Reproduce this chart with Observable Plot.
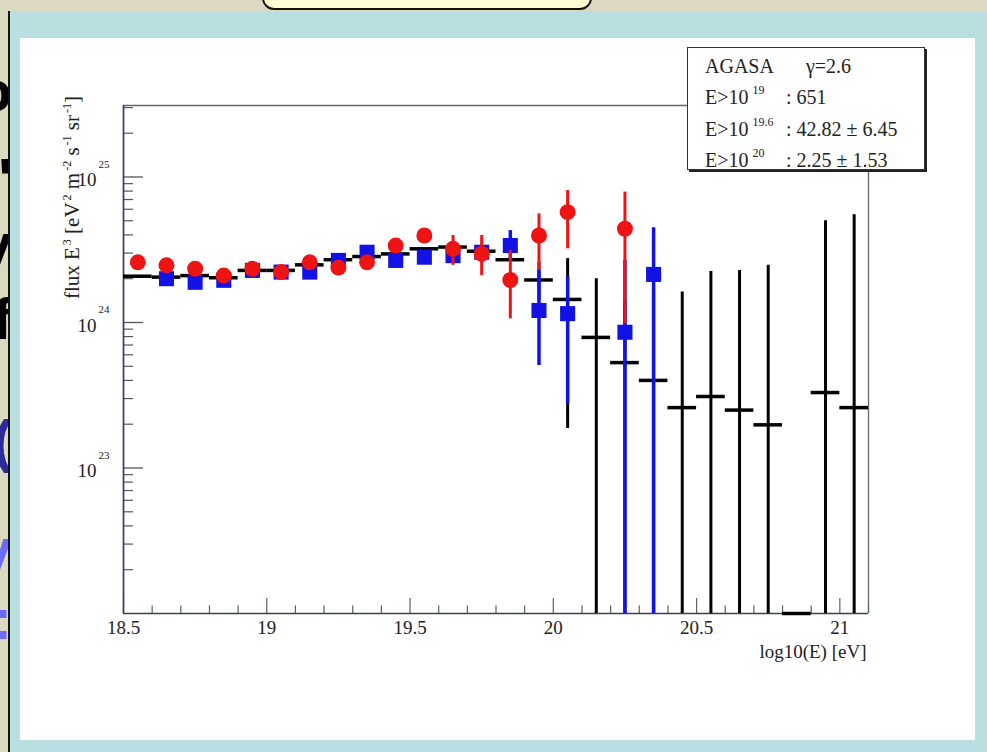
<!DOCTYPE html>
<html>
<head>
<meta charset="utf-8">
<script src="https://cdn.jsdelivr.net/npm/d3@7"></script>
<script src="https://cdn.jsdelivr.net/npm/@observablehq/plot@0.6"></script>
<style>
  html, body { margin:0; padding:0; width:987px; height:752px; overflow:hidden; background:#dcd9c1; }
  #frame { position:absolute; left:8px; top:11px; width:979px; height:741px; background:#badfe0; border-left:2px solid #111; box-sizing:border-box; }
  #panel { position:absolute; left:20px; top:38px; width:955px; height:702px; background:#fff; }
  #callout { position:absolute; left:262px; top:-16px; width:326px; height:22px; background:#fffbd2; border:2px solid #111; border-radius:12px; }
  #side { position:absolute; left:0; top:0; width:8px; height:752px; overflow:hidden; }
  #side span { position:absolute; right:-4px; font-family:"Liberation Sans", sans-serif; font-weight:bold; font-size:58px; line-height:58px; }
  #chart { position:absolute; left:0; top:0; }
  #legend { position:absolute; left:687px; top:47px; width:238px; height:123px; background:#fff;
            border:1.5px solid #333; box-shadow:2px 2px 0 #222; box-sizing:border-box;
            font-family:"Liberation Serif", serif; font-size:20px; color:#222; }
  #legend .row { position:absolute; left:0; width:100%; height:20px; line-height:20px; }
  #legend .row span { position:absolute; white-space:nowrap; }
  #legend sup { font-size:12px; vertical-align:baseline; position:relative; top:-0.8em; margin-left:4px; }
</style>
</head>
<body>
<div id="side">
  <span style="top:62px">o</span>
  <span style="top:150px">'</span>
  <span style="top:215px">y</span>
  <span style="top:290px">f</span>
  <span style="top:412px;color:#2b2b9c">(</span>
  <span style="top:520px;color:#6b6bff">y</span>
  <span style="top:590px;color:#6b6bff">:</span>
</div>
<div id="frame"></div>
<div id="callout"></div>
<div id="panel"></div>
<div id="chart"></div>
<div id="legend">
  <div class="row" style="top:8px"><span style="left:17px">AGASA</span><span style="left:118px">γ=2.6</span></div>
  <div class="row" style="top:39px"><span style="left:17px">E&gt;10<sup>19</sup></span><span style="left:98px">: 651</span></div>
  <div class="row" style="top:71px"><span style="left:17px">E&gt;10<sup>19.6</sup></span><span style="left:98px">: 42.82 ± 6.45</span></div>
  <div class="row" style="top:102px"><span style="left:17px">E&gt;10<sup>20</sup></span><span style="left:98px">: 2.25 ± 1.53</span></div>
</div>
<script>
// ---------- data (log10(E) bin centres and flux E^3 values) ----------
const bins = [18.55,18.65,18.75,18.85,18.95,19.05,19.15,19.25,19.35,19.45,19.55,19.65,19.75,19.85,19.95,20.05,20.15,20.25,20.35,20.45,20.55,20.65,20.75,20.85,20.95,21.05];
const blackFlux = [2.08e24,2.05e24,2.10e24,2.03e24,2.28e24,2.28e24,2.49e24,2.70e24,2.84e24,2.96e24,3.21e24,3.30e24,3.09e24,2.70e24,1.96e24,1.44e24,7.9e23,5.3e23,4.0e23,2.6e23,3.1e23,2.5e23,1.98e23,1e22,3.3e23,2.6e23];

const blackErrE  = [19.95,20.05,20.15,20.25,20.35,20.45,20.55,20.65,20.75,20.95,21.05];
const blackErrHi = [2.58e24,2.75e24,2.0e24,1.42e24,1.66e24,1.62e24,2.24e24,2.28e24,2.47e24,5.0e24,5.5e24];
const blackErrLo = [1.42e24,1.87e23,1e22,1e22,1e22,1e22,1e22,1e22,1e22,1e22,1e22];

const redE    = [18.55,18.65,18.75,18.85,18.95,19.05,19.15,19.25,19.35,19.45,19.55,19.65,19.75,19.85,19.95,20.05,20.25];
const redFlux = [2.59e24,2.47e24,2.34e24,2.10e24,2.34e24,2.22e24,2.59e24,2.38e24,2.59e24,3.38e24,3.96e24,3.21e24,2.96e24,1.96e24,3.96e24,5.73e24,4.41e24];
const redHi   = [null,null,null,null,null,null,null,null,null,null,null,3.96e24,3.96e24,3.13e24,5.58e24,8.07e24,7.87e24];
const redLo   = [null,null,null,null,null,null,null,null,null,null,null,2.47e24,2.10e24,1.06e24,2.28e24,3.21e24,9.8e23];

const blueE    = [18.65,18.75,18.85,18.95,19.05,19.15,19.25,19.35,19.45,19.55,19.65,19.75,19.85,19.95,20.05,20.25,20.35];
const blueFlux = [2.0e24,1.89e24,1.95e24,2.28e24,2.22e24,2.22e24,2.67e24,3.04e24,2.67e24,2.81e24,2.88e24,3.04e24,3.38e24,1.21e24,1.15e24,8.57e23,2.14e24];
const blueHi   = [null,null,null,null,null,null,null,null,null,null,null,null,4.28e24,2.28e24,2.05e24,2.67e24,4.48e24];
const blueLo   = [null,null,null,null,null,null,null,null,null,null,null,null,2.67e24,5.06e23,2.77e23,1e22,1e22];

const binHalfWidth = 0.05;

// ticks
const xLabelPos = [18.5,19,19.5,20,20.5,21];
const xLabels = ["18.5","19","19.5","20","20.5","21"];
const yMajor = [1e23,1e24,1e25];
const yExp = ["23","24","25"];
const yMinorMant = [2,3,4,5,6,7,8,9];
const yDecades = [1e22,1e23,1e24,1e25];

// ---------- layout ----------
const W = 987, H = 752;
const mL = 123, mR = 119, mT = 105, mB = 139;
const innerW = W - mL - mR, innerH = H - mT - mB;
const xDomain = [18.5, 21.1], yDomain = [1e22, 3.1e25];

const yMinor = yDecades.flatMap(d => yMinorMant.map(m => m * d)).filter(v => v > yDomain[0] && v < yDomain[1]);
const xAll = d3.range(185, 212).map(v => v / 10);
const xMajorT = xAll.filter(v => Math.abs(v * 2 - Math.round(v * 2)) < 1e-9);
const xMinorT = xAll.filter(v => !xMajorT.includes(v));

const black = bins.map((e, i) => ({e, f: blackFlux[i]}));
const blackErr = blackErrE.map((e, i) => ({e, hi: blackErrHi[i], lo: blackErrLo[i]}));
const red = redE.map((e, i) => ({e, f: redFlux[i], hi: redHi[i], lo: redLo[i]}));
const blue = blueE.map((e, i) => ({e, f: blueFlux[i], hi: blueHi[i], lo: blueLo[i]}));

const font = "'Liberation Serif', 'Times New Roman', serif";
const RED = "#ee1414", BLUE = "#1212e6";

const chart = Plot.plot({
  width: W, height: H,
  marginLeft: mL, marginRight: mR, marginTop: mT, marginBottom: mB,
  style: {background: "transparent", fontFamily: font, color: "#222"},
  x: {domain: xDomain, axis: null},
  y: {type: "log", domain: yDomain, axis: null},
  marks: [
    Plot.ruleY([yDomain[1]], {stroke: "#666", strokeWidth: 1.3}),
    Plot.ruleX([xDomain[1]], {stroke: "#666", strokeWidth: 1.3}),
    Plot.tickY(yMinor, {y: d => d, insetRight: innerW - 10, stroke: "#555", strokeWidth: 1.2}),
    Plot.tickY(yMajor, {y: d => d, insetRight: innerW - 20, stroke: "#555", strokeWidth: 1.3}),
    Plot.tickX(xMinorT, {x: d => d, insetTop: innerH - 7.5, stroke: "#556655", strokeWidth: 1.2}),
    Plot.tickX(xMajorT, {x: d => d, insetTop: innerH - 15, stroke: "#556655", strokeWidth: 1.2}),
    Plot.ruleX([xDomain[0]], {stroke: "#3c3c58", strokeWidth: 1.7}),
    Plot.ruleY([yDomain[0]], {stroke: "#3c3c58", strokeWidth: 1.7}),
    Plot.text(xLabelPos, {x: d => d, text: (d, i) => xLabels[i], frameAnchor: "bottom", dy: 20, fontSize: 19, fill: "#222"}),
    Plot.text(yMajor, {y: d => d, text: () => "10", frameAnchor: "left", textAnchor: "end", dx: -27, dy: 3, fontSize: 19, fill: "#222"}),
    Plot.text(yMajor, {y: d => d, text: (d, i) => yExp[i], frameAnchor: "left", textAnchor: "start", dx: -25, dy: -13, fontSize: 11, fill: "#222"}),
    Plot.text(["log10(E) [eV]"], {text: d => d, frameAnchor: "bottom-right", textAnchor: "end", dx: -2, dy: 44, fontSize: 19, fill: "#222"}),
    Plot.ruleY(black, {y: "f", x1: d => d.e - binHalfWidth, x2: d => d.e + binHalfWidth, stroke: "#000", strokeWidth: 3.5}),
    Plot.ruleX(blackErr, {x: "e", y1: "lo", y2: "hi", stroke: "#000", strokeWidth: 3}),
    Plot.ruleX(blue.filter(d => d.hi != null), {x: "e", y1: "lo", y2: "hi", stroke: BLUE, strokeWidth: 3.5}),
    Plot.dot(blue, {x: "e", y: "f", symbol: "square", r: 8.5, fill: BLUE, stroke: "none"}),
    Plot.ruleX(red.filter(d => d.hi != null), {x: "e", y1: "lo", y2: "hi", stroke: RED, strokeWidth: 3}),
    Plot.dot(red, {x: "e", y: "f", r: 8, fill: RED, stroke: "none"})
  ]
});

// y-axis title with superscripts
const svg = d3.select(chart);
const t = svg.append("text")
  .attr("transform", "translate(79,96) rotate(-90)")
  .attr("text-anchor", "end")
  .attr("font-family", font)
  .attr("font-size", 21)
  .attr("fill", "#222");
const parts = [["flux E", 0], ["3", 1], [" [eV", 0], ["2", 1], [" m", 0], ["-2", 1], [" s", 0], ["-1", 1], [" sr", 0], ["-1", 1], ["]", 0]];
let raised = false;
for (const [txt, sup] of parts) {
  const ts = t.append("tspan").text(txt);
  if (sup && !raised) { ts.attr("dy", -8).attr("font-size", 12).attr("dx", 2); raised = true; }
  else if (sup) { ts.attr("font-size", 12).attr("dx", 2); }
  else if (raised) { ts.attr("dy", 8); raised = false; }
}

document.getElementById("chart").appendChild(chart);
</script>
</body>
</html>
